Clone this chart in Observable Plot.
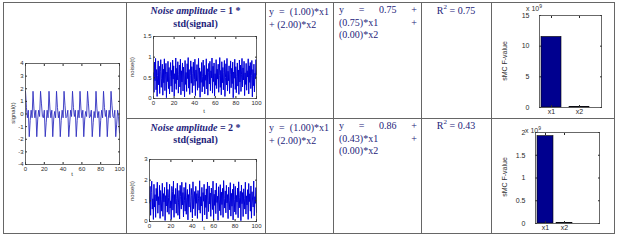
<!DOCTYPE html>
<html><head><meta charset="utf-8">
<script src="https://cdn.jsdelivr.net/npm/d3@7"></script>
<script src="https://cdn.jsdelivr.net/npm/@observablehq/plot@0.6"></script>
<style>
body{margin:0;background:#fff;}
#root{position:relative;width:617px;height:240px;overflow:hidden;font-family:"Liberation Serif","Times New Roman",serif;color:#23237a;}
.ln{position:absolute;background:#666;}
.t{position:absolute;white-space:nowrap;font-size:10px;line-height:12.5px;}
.j{position:absolute;font-size:10px;line-height:12.5px;text-align:justify;text-align-last:left;}
.ax{position:absolute;font-family:"Liberation Sans",Arial,sans-serif;font-size:6px;color:#333;white-space:nowrap;line-height:1;}
.rot{transform:translate(-50%,-50%) rotate(-90deg);}
.ctr{transform:translate(-50%,-50%);}
.pl{position:absolute;}
.pl svg{overflow:visible;max-width:none !important;}
</style></head><body><div id="root"></div>
<script>
// ---- data ----
const signalValues = [
 1.8, 0.5, -0.3, 0.3, -1.8, -0.5, 0.3, -0.3, 1.8, 0.4, -0.3, 0.3, -1.8, -0.4, 0.3, -0.2, 1.8, 0.8, -0.2, -0.3, 0.3, -1.8, -0.7, 0.3, -0.3,
 1.8, 0.4, -0.3, 0.3, -1.8, -0.4, 0.2, -0.3, 1.8, 0.5, -0.3, 0.2, -1.8, -0.5, 0.3, -0.3, 1.8, 0.7, -0.3, -0.2, 0.3, -1.8, -0.8, 0.3, -0.2,
 1.8, 0.5, -0.2, 0.3, -1.8, -0.5, 0.3, -0.3, 1.8, 0.4, -0.3, 0.3, -1.8, -0.4, 0.2, -0.2, 1.8, 0.8, -0.3, -0.2, 0.3, -1.8, -0.7, 0.2, -0.3,
 1.8, 0.4, -0.3, 0.2, -1.8, -0.5, 0.3, -0.3, 1.8, 0.5, -0.2, 0.3, -1.8, -0.4, 0.3, -0.3, 1.8, 0.7, -0.2, -0.3, 0.3, -1.8, -0.8, 0.3, -0.2,
 -1.5
];
const noise1Values = [
 .62,.15,.88,.43,.97,.21,.70,.05,.56,.91,.33,.78,.12,.66,.94,.27,.49,.83,.08,.71,.38,.96,.19,.57,.85,.02,.64,.41,.90,.24,
 .75,.11,.53,.87,.30,.68,.16,.93,.47,.79,.06,.60,.36,.98,.22,.73,.45,.89,.13,.58,.81,.28,.95,.09,.67,.40,.86,.18,.76,.52,
 .04,.92,.34,.63,.17,.84,.48,.99,.25,.70,.10,.55,.91,.37,.77,.14,.61,.88,.31,.46,.95,.07,.69,.42,.82,.20,.59,.97,.26,.74,
 .03,.65,.39,.87,.16,.54,.93,.29,.80,.11,.57,.44,.96,.23,.72,.08,.62,.85,.35,.90,.19,.67,.50,.98,.13,.78,.41,.86,.06,.60,
 .32,.94,.24,.71,.47,.83,.15,.56,.99,.27,.68,.09,.89,.38,.75,.21,.63,.92,.05,.51,.84,.33,.97,.18,.66,.43,.79,.12,.58,.91,
 .26,.73,.36,.88,.02,.64,.49,.95,.22,.77,.14,.53,.86,.30,.69,.10,.93,.40,.81,.17,.59,.97,.28,.74,.45,.90,.07,.62,.34,.85,
 .20,.67,.52,.96,.11,.79,.39,.87,.24,.55,.92,.04,.70,.31,.83,.16,.61,.48,.94,.58
];
const noise2Values = [
 .9,1.7,.3,1.4,1.95,.6,1.1,.1,1.8,.7,1.3,.2,1.6,1.0,1.9,.4,1.2,.8,1.75,.15,1.5,1.05,.5,1.85,.25,1.35,.95,1.65,.05,1.25,
 .75,1.9,.45,1.55,1.15,.35,1.8,.65,1.0,.1,1.7,1.45,.55,1.95,.2,1.3,.85,1.6,.4,1.1,1.85,.3,.9,1.5,.12,1.75,1.2,.6,1.9,.8,
 1.4,.22,1.65,1.0,.5,1.88,.35,1.15,1.55,.08,1.3,.7,1.8,.95,.45,1.6,1.25,.18,1.92,.62,1.05,1.45,.28,1.7,.88,1.35,.15,1.5,1.1,.55,
 1.97,.4,1.2,.75,1.65,.03,1.4,.98,1.8,.32,1.28,.68,1.58,.12,1.9,1.02,.48,1.72,.85,1.38,.25,1.62,1.18,.58,1.95,.1,1.32,.78,1.52,.38,
 1.85,.92,1.22,.06,1.68,1.08,.52,1.78,.3,1.42,.82,1.6,.2,1.98,1.12,.65,1.48,.42,1.75,.9,1.3,.14,1.66,1.0,.56,1.88,.26,1.36,.74,1.56,
 .08,1.82,1.06,.46,1.7,.34,1.26,.94,1.62,.18,1.92,.66,1.16,1.46,.04,1.76,.86,1.4,.24,1.58,1.1,.6,1.9,.36,1.24,.8,1.54,.1,1.84,.96,
 1.34,.5,1.72,.16,1.44,1.04,.7,1.96,.28,1.2,.88,1.64,.44
];
const coefNames = ["x1", "x2"];
// sMC F-values in units of 10^9
const fValuesRow1 = [11.5, 0.1];
const fValuesRow2 = [1.92, 0.012];
const timeTicks = [0, 20, 40, 60, 80, 100];
const noiseFactors = ["1", "2"];
const eqRow = ["y = (1.00)*x1 + (2.00)*x2", "y = (1.00)*x1 + (2.00)*x2"];
const fitRow = ["y = 0.75 + (0.75)*x1 + (0.00)*x2", "y = 0.86 + (0.43)*x1 + (0.00)*x2"];
const r2Row = ["0.75", "0.43"];

// ---- helpers ----
const root = document.getElementById("root");
function add(html, cls, style) {
  const d = document.createElement("div");
  d.className = cls; d.innerHTML = html;
  Object.assign(d.style, style);
  root.appendChild(d); return d;
}
function line(x, y, w, h) { add("", "ln", {left: x + "px", top: y + "px", width: w + "px", height: h + "px"}); }
const axStyle = {fontSize: "6px", fontFamily: "Liberation Sans, Arial, sans-serif", color: "#2a2a2a", background: "transparent", overflow: "visible"};
const fmt = d => String(d);
const blank = () => "";

function axes(xTicks, xFmt, yTicks, pad) {
  return [
    Plot.axisX({anchor: "bottom", ticks: xTicks, tickFormat: xFmt, tickSize: -2, tickPadding: 4, label: null}),
    Plot.axisX({anchor: "top", ticks: xTicks, tickFormat: blank, tickSize: -2, label: null}),
    Plot.axisY({anchor: "left", ticks: yTicks, tickFormat: fmt, tickSize: -2, tickPadding: pad, label: null}),
    Plot.axisY({anchor: "right", ticks: yTicks, tickFormat: blank, tickSize: -2, label: null})
  ];
}

function linePlot(values, cfg) {
  const n = values.length;
  const data = values.map((v, i) => ({t: i * 100 / (n - 1), v}));
  const p = Plot.plot({
    width: cfg.w, height: cfg.h,
    marginLeft: cfg.ml, marginRight: cfg.mr, marginTop: cfg.mt, marginBottom: cfg.mb,
    x: {domain: [0, 100]},
    y: {domain: cfg.yDomain},
    style: axStyle,
    marks: [
      Plot.line(data, {x: "t", y: "v", stroke: cfg.color, strokeWidth: cfg.sw}),
      ...axes(timeTicks, fmt, cfg.yTicks, 4),
      Plot.frame({stroke: "#444", strokeWidth: 0.8})
    ]
  });
  const wrap = add("", "pl", {left: cfg.left + "px", top: cfg.top + "px"});
  wrap.appendChild(p);
}

function barPlot(values, cfg) {
  const data = coefNames.map((c, i) => ({c, i: i + 1, v: values[i]}));
  const p = Plot.plot({
    width: cfg.w, height: cfg.h,
    marginLeft: cfg.ml, marginRight: cfg.mr, marginTop: cfg.mt, marginBottom: cfg.mb,
    x: {domain: cfg.xDomain},
    y: {domain: [0, cfg.yMax]},
    style: {...axStyle, fontSize: "7px"},
    marks: [
      Plot.rectY(data, {x1: d => d.i - cfg.hw, x2: d => d.i + cfg.hw, y: "v", fill: "#00008f", stroke: "#000", strokeWidth: 0.6}),
      ...axes([1, 2], d => coefNames[Math.round(d) - 1], cfg.yTicks, 12),
      Plot.frame({stroke: "#444", strokeWidth: 0.8})
    ]
  });
  const wrap = add("", "pl", {left: cfg.left + "px", top: cfg.top + "px"});
  wrap.appendChild(p);
}

// ---- table grid ----
line(3, 2, 611, 1);      // top
line(3, 233, 611, 1);    // bottom
line(3, 2, 1, 232);      // left
line(614, 2, 1, 232);    // right
line(126, 118, 488, 1);  // row divider
[126, 265, 333, 421, 491].forEach(x => line(x, 2, 1, 232));

// ---- signal plot ----
linePlot(signalValues, {left: 3, top: 55, w: 122, h: 125, ml: 22, mr: 6, mt: 8, mb: 16,
  yDomain: [-4, 4], yTicks: [-4, -3, -2, -1, 0, 1, 2, 3, 4], color: "#3030c0", sw: 0.9});
add("signal(t)", "ax rot", {left: "12.5px", top: "113px"});
add("t", "ax ctr", {left: "72px", top: "174px"});

// ---- rows ----
const rowTop = [0, 116];
const noiseCfg = [
  {values: noise1Values, yDomain: [0, 1.5], yTicks: [0, 0.5, 1, 1.5], ml: 27},
  {values: noise2Values, yDomain: [0, 3], yTicks: [0, 1, 2, 3], ml: 23}
];
const barCfg = [
  {values: fValuesRow1, yMax: 15, yTicks: [0, 5, 10, 15], xDomain: [0.571, 2.786], hw: 0.357, ml: 47, mt: 12, bw: 62},
  {values: fValuesRow2, yMax: 2, yTicks: [0, 0.5, 1, 1.5, 2], xDomain: [0.474, 3.84], hw: 0.42, ml: 43, mt: 13, bw: 64}
];
rowTop.forEach((y0, r) => {
  // title
  add(`<b><i>Noise amplitude</i> = ${noiseFactors[r]} *</b>`, "t ctr", {left: "195.5px", top: (y0 + 11 + r * 1) + "px"});
  add(`<b>std(signal)</b>`, "t ctr", {left: "195.5px", top: (y0 + 24) + "px"});
  // noise plot
  const nc = noiseCfg[r];
  linePlot(nc.values, {left: 126, top: y0 + 28 + r * 7, w: 138, h: 88, ml: nc.ml, mr: 8, mt: 8, mb: 18,
    yDomain: nc.yDomain, yTicks: nc.yTicks, color: "#0000d8", sw: 1.0});
  add("noise(t)", "ax rot", {left: "132px", top: (y0 + 67 + r * 8) + "px"});
  add("t", "ax ctr", {left: "204px", top: (y0 + 111 + r * 1) + "px"});
  // equations
  add(eqRow[r], "j", {left: "269px", top: (y0 + 6) + "px", width: "60px"});
  add(fitRow[r], "j", {left: "339px", top: (y0 + 4) + "px", width: "78px"});
  add(`R<sup style="font-size:7px;line-height:0">2</sup> = ${r2Row[r]}`, "t ctr", {left: "456px", top: (y0 + 11 - r * 1) + "px"});
  // bar plot
  const bc = barCfg[r];
  barPlot(bc.values, {left: 492, top: y0 + 3, w: 121, h: 114, ml: bc.ml, mr: 121 - bc.ml - bc.bw, mt: bc.mt, mb: 10,
    yMax: bc.yMax, yTicks: bc.yTicks, xDomain: bc.xDomain, hw: bc.hw});
  add(`x 10<sup style="font-size:5px;line-height:0">9</sup>`, "ax", {left: (526 - r * 1) + "px", top: (y0 + 5 + r * 6) + "px", fontSize: "7px"});
  add("sMC F-value", "ax rot", {left: "504px", top: (y0 + 61) + "px", fontSize: "7px"});
});
</script></body></html>
